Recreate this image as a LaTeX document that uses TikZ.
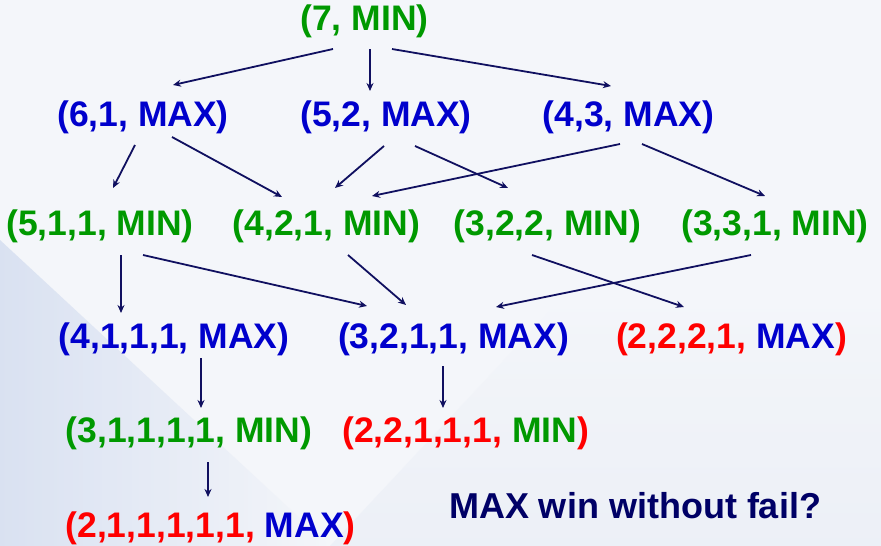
\documentclass[tikz,border=0pt]{standalone}
\usepackage{fontspec}
\setmainfont{Liberation Sans}
\usetikzlibrary{arrows.meta}
\definecolor{cgreen}{RGB}{0,153,0}
\definecolor{cblue}{RGB}{0,0,204}
\definecolor{cred}{RGB}{255,0,0}
\definecolor{cnavy}{RGB}{0,0,102}
\definecolor{arrcol}{RGB}{16,16,96}
\definecolor{bgbase}{RGB}{244,246,250}
\definecolor{bgblue}{RGB}{200,212,236}
\definecolor{bgblue2}{RGB}{230,235,245}
\begin{document}
\begin{tikzpicture}[x=1pt,y=-1pt,
  lbl/.style={anchor=base,inner sep=0pt,font=\fontsize{35.5}{40}\selectfont\bfseries},
  qst/.style={anchor=base,inner sep=0pt,font=\fontsize{36}{40}\selectfont\bfseries,text=cnavy},
  mn/.style={lbl,text=cgreen},
  mx/.style={lbl,text=cblue},
  arr/.style={draw=arrcol,line width=1.8pt,-{Stealth[length=8pt,width=7pt]}}]
\useasboundingbox (0,0) rectangle (881,546);
% background
\fill[bgbase] (0,0) rectangle (881,546);
\shade[left color=bgblue,right color=bgbase,opacity=0.6] (0,240) -- (330,546) -- (0,546) -- cycle;
\shade[top color=bgbase,bottom color=bgblue2,opacity=0.5] (330,546) -- (560,300) -- (881,300) -- (881,546) -- cycle;
% nodes
\node[mn] (n7) at (364.5,30) {(7, MIN)};
\node[mx] (n61) at (143,126) {(6,1, MAX)};
\node[mx] (n52) at (386,126) {(5,2, MAX)};
\node[mx] (n43) at (628.5,126) {(4,3, MAX)};
\node[mn] (n511) at (100,235) {(5,1,1, MIN)};
\node[mn] (n421) at (326.5,235) {(4,2,1, MIN)};
\node[mn] (n322) at (547.5,235) {(3,2,2, MIN)};
\node[mn] (n331) at (775,235) {(3,3,1, MIN)};
\node[mx] (n4111) at (174,348) {(4,1,1,1, MAX)};
\node[mx] (n3211) at (453.5,348) {(3,2,1,1, MAX)};
\node[lbl,text=cred] (n2221) at (731.5,348) {(2,2,2,1, \textcolor{cblue}{MAX})};
\node[mn] (n31111) at (189,442) {(3,1,1,1,1, MIN)};
\node[lbl,text=cred] (n22111) at (465.6,442) {(2,2,1,1,1, \textcolor{cgreen}{MIN})};
\node[lbl,text=cred] (n211111) at (210.5,537) {(2,1,1,1,1,1, \textcolor{cblue}{MAX})};
\node[qst] (q) at (635,518) {MAX win without fail?};
% connectors
\draw[arr] ([shift={(-31.5,19)}]n7.base) -- ([shift={(30,-41)}]n61.base);
\draw[arr] ([shift={(5.5,19)}]n7.base) -- ([shift={(-16,-35)}]n52.base);
\draw[arr] ([shift={(27.5,19)}]n7.base) -- ([shift={(-17.5,-40)}]n43.base);
\draw[arr] ([shift={(-8,19)}]n61.base) -- ([shift={(13,-47)}]n511.base);
\draw[arr] ([shift={(29,11)}]n61.base) -- ([shift={(-44.5,-38)}]n421.base);
\draw[arr] ([shift={(-2,20)}]n52.base) -- ([shift={(8.5,-47)}]n421.base);
\draw[arr] ([shift={(29,20)}]n52.base) -- ([shift={(-39.5,-47)}]n322.base);
\draw[arr] ([shift={(-8.5,18)}]n43.base) -- ([shift={(45.5,-39)}]n421.base);
\draw[arr] ([shift={(13.5,18)}]n43.base) -- ([shift={(-10,-39)}]n331.base);
\draw[arr] ([shift={(21,20)}]n511.base) -- ([shift={(-53,-35)}]n4111.base);
\draw[arr] ([shift={(43,20)}]n511.base) -- ([shift={(-86.5,-42)}]n3211.base);
\draw[arr] ([shift={(21.5,20)}]n421.base) -- ([shift={(-47.5,-43)}]n3211.base);
\draw[arr] ([shift={(-15.5,20)}]n322.base) -- ([shift={(-47.5,-41)}]n2221.base);
\draw[arr] ([shift={(-24,20)}]n331.base) -- ([shift={(42.5,-41)}]n3211.base);
\draw[arr] ([shift={(27,10)}]n4111.base) -- ([shift={(12,-34)}]n31111.base);
\draw[arr] ([shift={(-10.5,18)}]n3211.base) -- ([shift={(-22.6,-34)}]n22111.base);
\draw[arr] ([shift={(19,20)}]n31111.base) -- ([shift={(-2.5,-40)}]n211111.base);
\end{tikzpicture}
\end{document}
